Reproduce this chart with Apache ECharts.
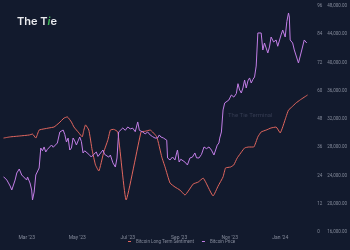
<!DOCTYPE html>
<html>
<head>
<meta charset="utf-8">
<script src="https://cdn.jsdelivr.net/npm/echarts@6/dist/echarts.min.js"></script>
<style>
html,body{margin:0;padding:0;background:#121a2d;}
#c{width:350px;height:250px;}
</style>
</head>
<body>
<div id="c"></div>
<script>
// ---- data ----
const xTickDates = ['2023-03-01','2023-05-01','2023-07-01','2023-09-01','2023-11-01','2024-01-01'];
const xTickLabels = ["Mar '23","May '23","Jul '23","Sep '23","Nov '23","Jan '24"];
const sentimentTicks = [0,12,24,36,48,60,72,84,96];
const priceTicks = [16000,20000,24000,28000,32000,36000,40000,44000,48000];

const priceDates = ['2023-02-01','2023-02-03','2023-02-05','2023-02-07','2023-02-09','2023-02-11','2023-02-13','2023-02-15','2023-02-17','2023-02-20','2023-02-23','2023-02-25','2023-03-01','2023-03-02','2023-03-05','2023-03-07','2023-03-08','2023-03-10','2023-03-12','2023-03-16','2023-03-18','2023-03-20','2023-03-22','2023-03-24','2023-03-26','2023-03-28','2023-03-31','2023-04-02','2023-04-04','2023-04-07','2023-04-10','2023-04-12','2023-04-14','2023-04-16','2023-04-18','2023-04-20','2023-04-22','2023-04-24','2023-04-26','2023-04-28','2023-04-30','2023-05-02','2023-05-04','2023-05-06','2023-05-08','2023-05-10','2023-05-12','2023-05-15','2023-05-18','2023-05-21','2023-05-24','2023-05-26','2023-05-28','2023-06-01','2023-06-03','2023-06-05','2023-06-08','2023-06-10','2023-06-13','2023-06-16','2023-06-18','2023-06-20','2023-06-22','2023-06-25','2023-06-28','2023-07-01','2023-07-04','2023-07-07','2023-07-10','2023-07-13','2023-07-15','2023-07-17','2023-07-19','2023-07-22','2023-07-25','2023-07-28','2023-07-31','2023-08-03','2023-08-06','2023-08-08','2023-08-10','2023-08-13','2023-08-15','2023-08-17','2023-08-18','2023-08-21','2023-08-24','2023-08-27','2023-08-29','2023-08-30','2023-09-01','2023-09-03','2023-09-05','2023-09-08','2023-09-11','2023-09-14','2023-09-17','2023-09-20','2023-09-22','2023-09-25','2023-09-28','2023-10-01','2023-10-04','2023-10-07','2023-10-10','2023-10-13','2023-10-15','2023-10-17','2023-10-19','2023-10-20','2023-10-22','2023-10-24','2023-10-26','2023-10-28','2023-10-31','2023-11-03','2023-11-06','2023-11-09','2023-11-11','2023-11-13','2023-11-15','2023-11-17','2023-11-19','2023-11-21','2023-11-23','2023-11-25','2023-11-27','2023-11-29','2023-12-01','2023-12-03','2023-12-05','2023-12-07','2023-12-09','2023-12-11','2023-12-13','2023-12-15','2023-12-17','2023-12-19','2023-12-21','2023-12-24','2023-12-27','2023-12-29','2023-12-31','2024-01-02','2024-01-04','2024-01-07','2024-01-09','2024-01-11','2024-01-12','2024-01-13','2024-01-16','2024-01-18','2024-01-20','2024-01-23','2024-01-25','2024-01-27','2024-01-30','2024-02-02'];
const priceValues = [23830,23650,23360,22940,22510,21950,22230,23360,24350,24920,24070,23790,23360,23790,22940,21950,20530,21660,24070,25060,27890,27500,28040,27330,27700,27890,28320,28000,28040,28600,30160,29900,30440,29800,28740,29300,27610,27900,29310,28900,28320,28900,29450,28800,27190,27500,27610,27000,26620,27000,27330,26700,26900,27610,27000,27190,26600,26900,25800,25200,26480,30160,30000,30730,30400,30870,30600,30700,30200,31580,30400,30440,30160,29900,30160,29740,29500,29300,29310,29740,29450,29310,29450,29000,26480,26200,26620,26200,27200,27610,25910,26300,26200,25900,25490,26480,26600,27190,26500,26480,27000,28040,27800,28040,27600,26900,26620,28300,28600,29300,30160,33280,34270,34000,34690,35400,35100,35600,37000,36110,35680,36400,37520,36390,37400,37810,37100,37600,37950,39500,44180,44000,44180,41770,42760,42760,41350,42200,43610,42900,43190,42300,42200,43900,44600,43610,45800,47010,46440,43190,42760,41770,42000,39930,40070,41770,43190,42760];

const sentimentDates = ['2023-02-01','2023-02-09','2023-02-21','2023-03-04','2023-03-08','2023-03-12','2023-03-16','2023-03-22','2023-03-28','2023-04-03','2023-04-09','2023-04-15','2023-04-19','2023-04-24','2023-04-27','2023-05-03','2023-05-07','2023-05-09','2023-05-11','2023-05-15','2023-05-19','2023-05-23','2023-05-27','2023-06-02','2023-06-07','2023-06-10','2023-06-14','2023-06-19','2023-06-29','2023-07-17','2023-07-22','2023-07-28','2023-08-05','2023-08-11','2023-08-15','2023-08-21','2023-08-27','2023-09-02','2023-09-08','2023-09-18','2023-09-24','2023-09-30','2023-10-03','2023-10-12','2023-10-18','2023-10-24','2023-10-27','2023-11-02','2023-11-06','2023-11-10','2023-11-19','2023-11-24','2023-11-30','2023-12-05','2023-12-09','2023-12-15','2023-12-21','2023-12-27','2024-01-01','2024-01-04','2024-01-08','2024-01-11','2024-01-15','2024-01-20','2024-01-25','2024-02-03'];
const sentimentValues = [39.9,40.4,40.8,41.2,41.6,39.9,43.3,43.8,44.2,44.6,46.3,48.4,48.9,46.7,44.6,42.1,40.4,43.3,45.5,43.3,34.8,28.5,25.9,34.0,39.1,43.3,43.6,42.5,13.6,42.5,42.8,43.3,40.4,31.9,27.6,20.8,19.1,17.8,15.7,20.4,21.2,22.9,21.2,15.3,19.5,23.4,27.2,27.6,28.5,31.4,35.7,36.1,36.1,40.4,42.5,43.3,44.2,44.6,42.1,44.6,48.9,51.8,53.1,54.8,56.1,58.2];

// ---- chart ----
const chart = echarts.init(document.getElementById('c'), null, {renderer:'canvas'});
const ts = s => { const p = s.split('-').map(Number); return Date.UTC(p[0], p[1]-1, p[2]); };
const tickTs = xTickDates.map(ts);
const labelColor = '#858b9b';
const fontFam = 'Roboto, "Noto Sans", sans-serif';

chart.setOption({
  backgroundColor: '#121a2d',
  animation: false,
  grid: {left: 3.5, right: 36.6, top: 6, bottom: 18, containLabel: false},
  legend: {
    bottom: 1, left: 123,
    icon: 'rect', itemWidth: 3, itemHeight: 1, itemGap: 8,
    textStyle: {color: labelColor, fontSize: 4.5, fontFamily: fontFam},
    data: ['Bitcoin Long Term Sentiment','Bitcoin Price']
  },
  xAxis: {
    type: 'value',
    min: ts('2023-02-01'), max: ts('2024-02-05'),
    axisLine: {show: false}, axisTick: {show: false}, splitLine: {show: false},
    axisLabel: {
      customValues: tickTs,
      color: labelColor, fontSize: 5, fontFamily: fontFam, margin: 3,
      formatter: v => { const i = tickTs.indexOf(v); return i >= 0 ? xTickLabels[i] : ''; }
    }
  },
  yAxis: [
    {
      type: 'value', position: 'right',
      min: sentimentTicks[0], max: sentimentTicks[sentimentTicks.length-1], interval: 12,
      axisLine: {show: false}, axisTick: {show: false}, splitLine: {show: false},
      axisLabel: {color: labelColor, fontSize: 4.5, fontFamily: fontFam, margin: 8}
    },
    {
      type: 'value', position: 'right', offset: 10,
      min: priceTicks[0], max: priceTicks[priceTicks.length-1], interval: 4000,
      axisLine: {show: false}, axisTick: {show: false}, splitLine: {show: false},
      axisLabel: {color: labelColor, fontSize: 4.5, fontFamily: fontFam, margin: 8,
        formatter: v => v.toLocaleString('en-US', {minimumFractionDigits: 2, maximumFractionDigits: 2})}
    }
  ],
  series: [
    {
      name: 'Bitcoin Long Term Sentiment', type: 'line', yAxisIndex: 0,
      data: sentimentDates.map((d,i) => [ts(d), sentimentValues[i]]),
      showSymbol: false, smooth: 0.12, color: '#e2675f',
      lineStyle: {width: 1, color: '#e2675f'}
    },
    {
      name: 'Bitcoin Price', type: 'line', yAxisIndex: 1,
      data: priceDates.map((d,i) => [ts(d), priceValues[i]]),
      showSymbol: false, color: '#c27ee6',
      lineStyle: {width: 1, color: '#c27ee6'}
    }
  ],
  graphic: [
    {type: 'text', left: 17, top: 16, style: {
      text: '{a|The T}{g|i}{a|e}',
      rich: {
        a: {fill: '#e9eaee', fontSize: 11, fontWeight: 600, fontFamily: 'Inter, Roboto, sans-serif'},
        g: {fill: '#3fbf5a', fontSize: 11, fontWeight: 600, fontStyle: 'italic', fontFamily: 'Inter, Roboto, sans-serif'}
      }
    }},
    {type: 'text', left: 228, top: 112, silent: true, style: {
      text: 'The Tie Terminal', fill: '#353c52', fontSize: 6, fontFamily: fontFam
    }}
  ]
});
</script>
</body>
</html>
